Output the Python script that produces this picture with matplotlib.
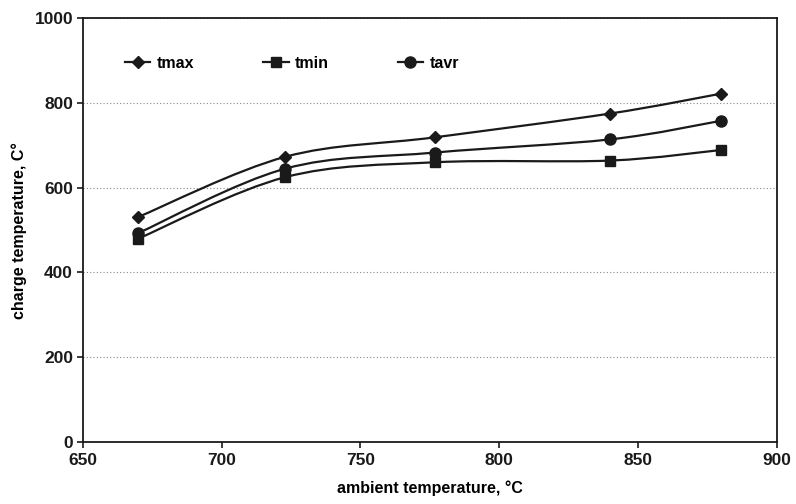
import numpy as np
import matplotlib
matplotlib.use("Agg")
import matplotlib.pyplot as plt
from matplotlib.path import Path
from matplotlib.patches import PathPatch
from matplotlib.lines import Line2D

# данные
ambient = [670, 723, 777, 840, 880]
t_max = [531, 673, 719, 775, 822]
t_min = [480, 625, 660, 664, 689]
t_avr = [493, 645, 683, 714, 758]

series = [("tmax", t_max, "D", 6.0),
          ("tmin", t_min, "s", 7.5),
          ("tavr", t_avr, "o", 8.0)]

plt.rcParams['font.family'] = ['Liberation Sans', 'DejaVu Sans']
plt.rcParams['font.weight'] = 'bold'


def smooth_path(x, y):
    # сглаженная линия как в Excel (кубические Безье)
    pts = np.column_stack([x, y]).astype(float)
    verts = [pts[0]]
    codes = [Path.MOVETO]
    n = len(pts)
    for i in range(n - 1):
        p0 = pts[i - 1] if i > 0 else pts[i]
        p1 = pts[i]
        p2 = pts[i + 1]
        p3 = pts[i + 2] if i + 2 < n else pts[i + 1]
        c1 = p1 + (p2 - p0) / 6
        c2 = p2 - (p3 - p1) / 6
        verts += [c1, c2, p2]
        codes += [Path.CURVE4] * 3
    return Path(verts, codes)


fig = plt.figure(figsize=(7.96, 5.04), dpi=100)
ax = fig.add_axes([0.104, 0.123, 0.872, 0.841])

handles = []
for name, vals, mk, ms in series:
    ax.add_patch(PathPatch(smooth_path(ambient, vals), fill=False,
                           edgecolor='#1a1a1a', lw=1.6))
    ax.plot(ambient, vals, linestyle='none', marker=mk, ms=ms,
            color='#1a1a1a')
    handles.append(Line2D([], [], color='#1a1a1a', lw=1.6, marker=mk, ms=ms,
                          label=name))

ax.set_xlim(650, 900)
ax.set_ylim(0, 1000)
ax.set_xticks(np.arange(650, 901, 50))
ax.set_yticks(np.arange(0, 1001, 200))
ax.yaxis.grid(True, linestyle=(0, (1, 2)), color='#888888', lw=0.8)
ax.set_axisbelow(True)
for s in ax.spines.values():
    s.set_linewidth(1.3)
    s.set_color('#1a1a1a')
ax.tick_params(direction='out', length=4, width=1.2, labelsize=12.5,
               colors='#1a1a1a')
ax.tick_params(axis='x', pad=4)
ax.tick_params(axis='y', pad=3)

ax.set_xlabel('ambient temperature, °C', fontsize=11.5, fontweight='bold',
              labelpad=9)
ax.set_ylabel('charge temperature, C°', fontsize=11.5, fontweight='bold')
ax.yaxis.set_label_coords(-0.08, 0.5)

ax.legend(handles=handles, loc='upper left', bbox_to_anchor=(0.04, 0.945),
          ncol=3, frameon=False, handlelength=1.6, handletextpad=0.4,
          columnspacing=4.3, fontsize=11.5)

fig.savefig('out.png', dpi=100)
